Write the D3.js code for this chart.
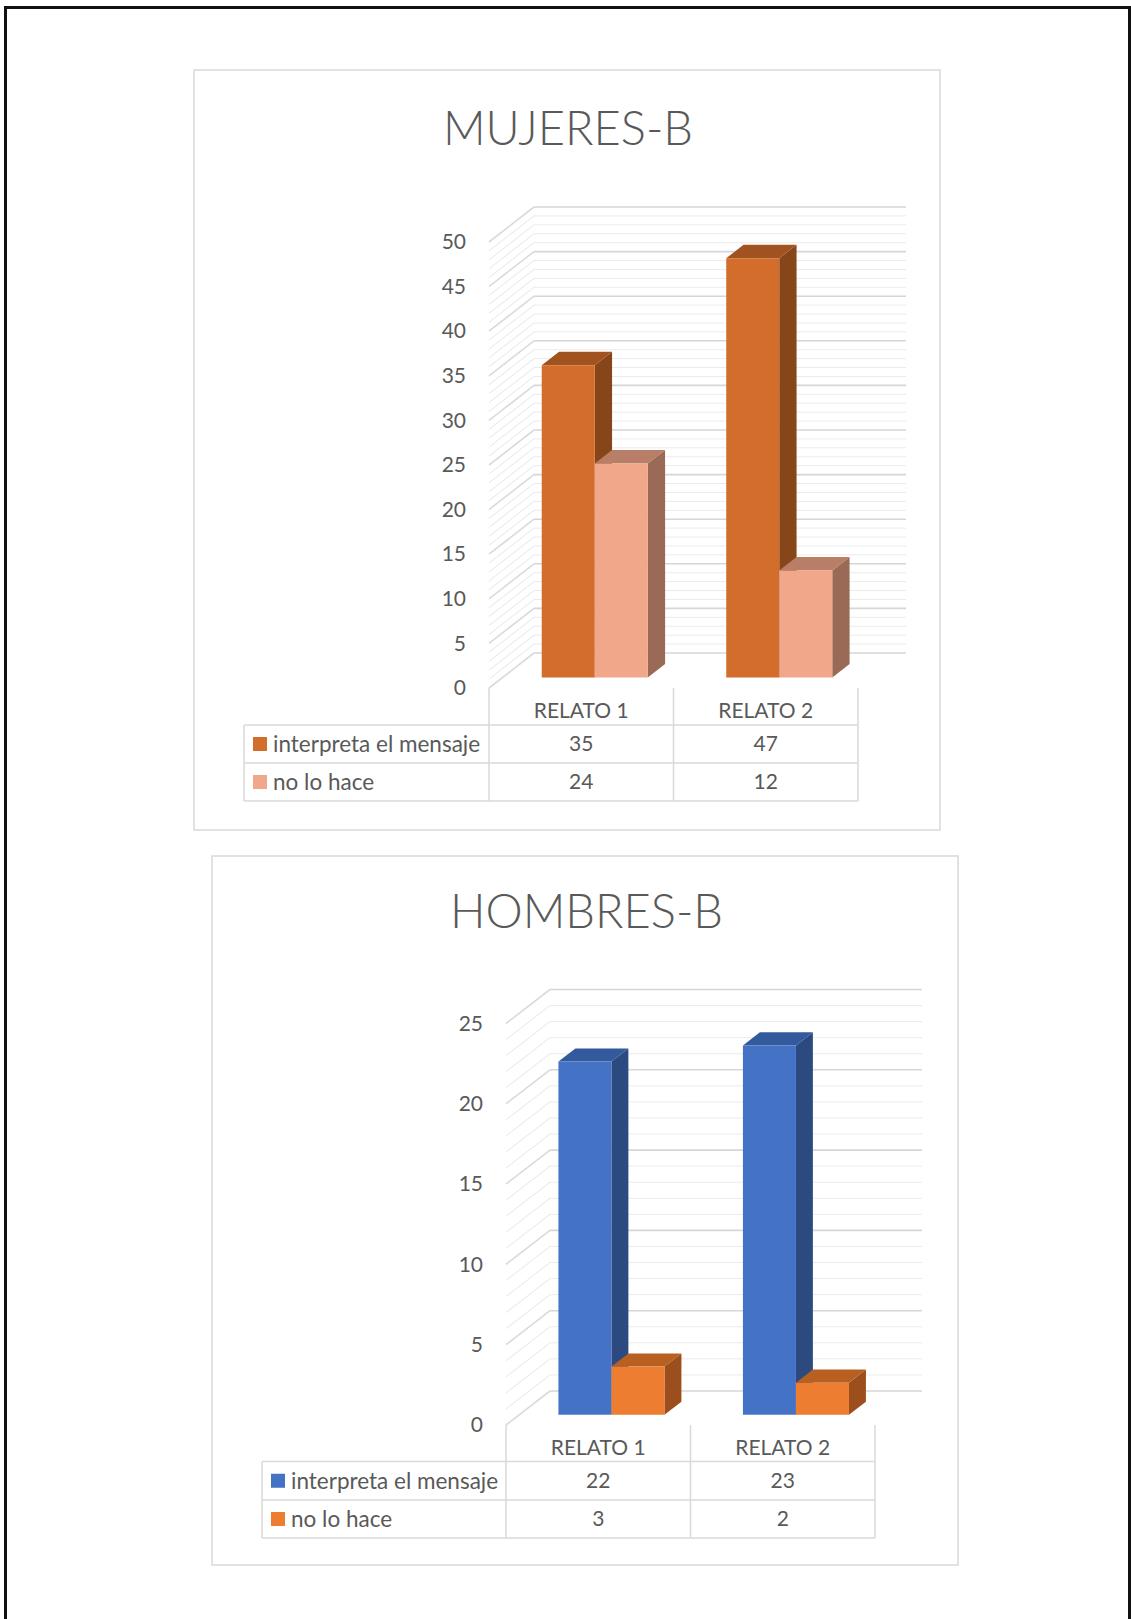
<!DOCTYPE html>
<html>
<head>
<meta charset="utf-8">
<script src="https://cdn.jsdelivr.net/npm/d3@7"></script>
<style>
  body { margin: 0; background: #fff; }
  svg { display: block; }
  text { font-family: Lato, "Open Sans", sans-serif; fill: #595959; }
</style>
</head>
<body>
<svg id="page" width="1131" height="1619"></svg>
<script>
// ---- data ----
const categories = ["RELATO 1", "RELATO 2"];
const seriesNames = ["interpreta el mensaje", "no lo hace"];
const mujeresInterpreta = [35, 47];
const mujeresNoLoHace = [24, 12];
const hombresInterpreta = [22, 23];
const hombresNoLoHace = [3, 2];
const mujeresTicks = [0, 5, 10, 15, 20, 25, 30, 35, 40, 45, 50];
const hombresTicks = [0, 5, 10, 15, 20, 25];

const svg = d3.select("#page");
svg.append("rect").attr("width", 1131).attr("height", 1619).attr("fill", "#fff");

// page frame
svg.append("rect")
  .attr("x", 5.5).attr("y", 7.5).attr("width", 1124).attr("height", 1700)
  .attr("fill", "none").attr("stroke", "#111").attr("stroke-width", 3);

// 3D clustered column chart with a data table underneath
function drawChart(cfg) {
  const g = svg.append("g");

  // chart area frame
  g.append("rect")
    .attr("x", cfg.box.x).attr("y", cfg.box.y)
    .attr("width", cfg.box.w).attr("height", cfg.box.h)
    .attr("fill", "#fff").attr("stroke", "#d9d9d9").attr("stroke-width", 1.5);

  g.append("text")
    .attr("x", cfg.titleX).attr("y", cfg.titleY)
    .attr("text-anchor", "middle")
    .style("font-size", "47px").style("font-weight", 300)
    .text(cfg.title);

  const y = d3.scaleLinear().domain([0, cfg.max]).range(cfg.yRange);
  const x = d3.scaleBand().domain(categories).range(cfg.xRange).padding(0);
  const inner = d3.scaleBand().domain(seriesNames)
    .range([0, x.bandwidth()]).paddingInner(0).paddingOuter(0.74);

  const DX = cfg.depth[0], DY = cfg.depth[1];
  const proj = (px, v, t) => [px + t * DX, y(v) - t * DY];
  const x0 = cfg.xRange[0], x1 = cfg.xRange[1];

  // walls: minor + major gridlines, back wall and side wall
  const steps = d3.range(0, cfg.max + 1, 1);
  const grid = g.append("g");
  steps.forEach(v => {
    const major = v % 5 === 0;
    const col = major ? "#d6d6d6" : "#ebebeb";
    const w = major ? 1.6 : 1;
    const a = proj(x0, v, 0), b = proj(x0, v, 1);
    grid.append("line")
      .attr("x1", a[0]).attr("y1", a[1]).attr("x2", b[0]).attr("y2", b[1])
      .attr("stroke", major ? "#dadada" : "#e6e6e6").attr("stroke-width", w);
    grid.append("line")
      .attr("x1", b[0]).attr("y1", b[1]).attr("x2", x1 + DX + 3).attr("y2", b[1])
      .attr("stroke", col).attr("stroke-width", w);
  });

  // bars
  const t0 = 0.3, t1 = 0.685;
  const pts = arr => arr.map(p => p.join(",")).join(" ");
  categories.forEach((c, ci) => {
    cfg.series.forEach((s, si) => {
      const v = s.values[ci];
      const bx0 = x(c) + inner(seriesNames[si]);
      const bx1 = bx0 + inner.bandwidth();
      g.append("polygon")
        .attr("points", pts([proj(bx1, 0, t0), proj(bx1, 0, t1), proj(bx1, v, t1), proj(bx1, v, t0)]))
        .attr("fill", s.side);
      g.append("polygon")
        .attr("points", pts([proj(bx0, v, t0), proj(bx1, v, t0), proj(bx1, v, t1), proj(bx0, v, t1)]))
        .attr("fill", s.top);
      g.append("polygon")
        .attr("points", pts([proj(bx0, 0, t0), proj(bx1, 0, t0), proj(bx1, v, t0), proj(bx0, v, t0)]))
        .attr("fill", s.front);
    });
  });

  // value axis labels
  const axis = g.append("g")
    .attr("transform", `translate(${cfg.labelX},0)`)
    .call(d3.axisLeft(y).tickValues(cfg.ticks).tickSize(0).tickPadding(0));
  axis.select(".domain").remove();
  axis.selectAll("text")
    .style("font-family", "Lato, 'Open Sans', sans-serif")
    .style("font-size", "21px").attr("fill", "#595959");

  // data table
  const tl = cfg.tableLeft;
  const r = cfg.rows; // row boundaries: top of first data row ... bottom
  const line = (xa, ya, xb, yb) => g.append("line")
    .attr("x1", xa).attr("y1", ya).attr("x2", xb).attr("y2", yb)
    .attr("stroke", "#d9d9d9").attr("stroke-width", 1.5);
  const colEdges = [x0, ...categories.map(c => x(c) + x.bandwidth())];
  colEdges.forEach(cx => line(cx, cfg.yRange[0], cx, r[r.length - 1]));
  line(tl, r[0], tl, r[r.length - 1]);
  r.forEach(ry => line(tl, ry, x1, ry));

  categories.forEach(c => {
    g.append("text")
      .attr("x", x(c) + x.bandwidth() / 2).attr("y", cfg.yRange[0] + 30)
      .attr("text-anchor", "middle").style("font-size", "21px")
      .text(c);
  });

  cfg.series.forEach((s, si) => {
    const cy = (r[si] + r[si + 1]) / 2;
    g.append("rect")
      .attr("x", tl + 9).attr("y", cy - 7).attr("width", 14).attr("height", 14)
      .attr("fill", s.front);
    g.append("text")
      .attr("x", tl + 29).attr("y", cy).attr("dy", "0.35em")
      .style("font-size", "22.5px").text(seriesNames[si]);
    categories.forEach((c, ci) => {
      g.append("text")
        .attr("x", x(c) + x.bandwidth() / 2).attr("y", cy).attr("dy", "0.35em")
        .attr("text-anchor", "middle").style("font-size", "21px")
        .text(s.values[ci]);
    });
  });
}

drawChart({
  title: "MUJERES-B",
  box: { x: 194, y: 70, w: 746, h: 760 },
  titleX: 568, titleY: 145,
  max: 50, ticks: mujeresTicks,
  yRange: [688, 242], xRange: [489, 858], depth: [45, 35],
  labelX: 466, tableLeft: 244, rows: [725, 763, 801],
  series: [
    { values: mujeresInterpreta, front: "#d36d2b", side: "#87451a", top: "#a1531f" },
    { values: mujeresNoLoHace, front: "#f1a78a", side: "#9a6a57", top: "#b97e68" }
  ]
});

drawChart({
  title: "HOMBRES-B",
  box: { x: 212, y: 856, w: 746, h: 709 },
  titleX: 586.5, titleY: 928,
  max: 25, ticks: hombresTicks,
  yRange: [1425, 1023.5], xRange: [506, 875], depth: [44, 34],
  labelX: 483, tableLeft: 262, rows: [1461.5, 1500, 1538],
  series: [
    { values: hombresInterpreta, front: "#4472c4", side: "#2c4a80", top: "#335a9c" },
    { values: hombresNoLoHace, front: "#ed7d31", side: "#9c4f1c", top: "#b85f22" }
  ]
});
</script>
</body>
</html>
